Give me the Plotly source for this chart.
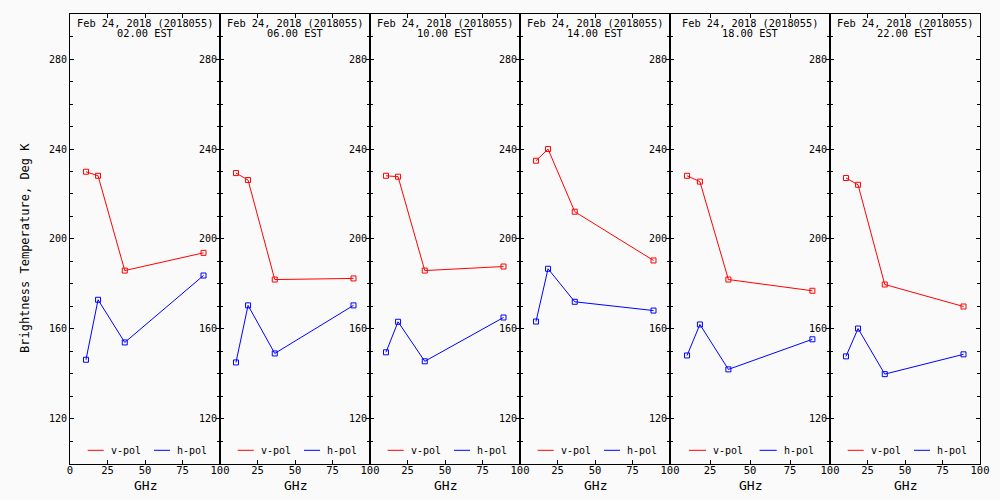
import plotly.graph_objects as go

# ---------------- data ----------------
freqs = [10.65, 18.7, 36.5, 89.0]
date_label = "Feb 24, 2018 (2018055)"
times = ["02.00 EST", "06.00 EST", "10.00 EST", "14.00 EST", "18.00 EST", "22.00 EST"]

vpol_02 = [229.9, 228.1, 185.9, 193.8]
vpol_06 = [229.3, 226.2, 181.9, 182.4]
vpol_10 = [228.1, 227.7, 185.9, 187.7]
vpol_14 = [234.8, 240.0, 212.1, 190.4]
vpol_18 = [228.1, 225.5, 181.9, 176.9]
vpol_22 = [227.1, 224.1, 179.7, 169.9]

hpol_02 = [146.2, 172.9, 153.9, 183.7]
hpol_06 = [145.0, 170.4, 149.0, 170.4]
hpol_10 = [149.5, 163.1, 145.5, 165.0]
hpol_14 = [163.2, 186.7, 172.0, 168.1]
hpol_18 = [148.1, 161.9, 141.9, 155.3]
hpol_22 = [147.7, 160.1, 139.8, 148.6]

vpol = [vpol_02, vpol_06, vpol_10, vpol_14, vpol_18, vpol_22]
hpol = [hpol_02, hpol_06, hpol_10, hpol_14, hpol_18, hpol_22]

x_tickvals = [0, 25, 50, 75, 100]
x_ticktext_first = ["0", "25", "50", "75", "100"]
x_ticktext_rest = ["", "25", "50", "75", "100"]
y_tickvals = [120, 160, 200, 240, 280]
y_ticktext = ["120", "160", "200", "240", "280"]
series_names = ["v-pol", "h-pol"]
series_colors = ["#ff0000", "#0000ff"]

# ---------------- layout geometry ----------------
W, H = 1000, 500
edges_px = [70, 220, 370, 520, 670, 830, 980]
y_top_px, y_bot_px = 14.3, 463.5
ydom = [(H - y_bot_px) / H, (H - y_top_px) / H]
FONT = "DejaVu Sans Mono"
BG = "#fafafa"

fig = go.Figure()
annotations = []
shapes = []

for i in range(6):
    n = "" if i == 0 else str(i + 1)
    xa = "x" + n
    ya = "y" + n
    for vals, name, col in [(vpol[i], series_names[0], series_colors[0]),
                            (hpol[i], series_names[1], series_colors[1])]:
        fig.add_trace(go.Scatter(
            x=freqs, y=vals, mode="lines+markers", name=name,
            line=dict(color=col, width=1),
            marker=dict(symbol="square-open", size=5, color=col, line=dict(width=1, color=col)),
            xaxis=xa, yaxis=ya, showlegend=False, hoverinfo="skip"))

    xdom = [edges_px[i] / W, edges_px[i + 1] / W]
    fig.layout["xaxis" + n] = dict(
        domain=xdom, range=[0, 100], anchor=ya, automargin=False,
        tickmode="array", tickvals=x_tickvals,
        ticktext=x_ticktext_first if i == 0 else x_ticktext_rest,
        ticks="inside", ticklen=4, tickcolor="black", ticklabelstandoff=-3,
        showline=True, linecolor="black", linewidth=1, mirror="ticks",
        showgrid=False, zeroline=False,
        tickfont=dict(family=FONT, size=10.5, color="black"))
    fig.layout["yaxis" + n] = dict(
        domain=ydom, range=[100, 300], anchor=xa, automargin=False,
        tickmode="array", tickvals=y_tickvals, ticktext=y_ticktext,
        ticks="inside", ticklen=4, tickcolor="black",
        minor=dict(dtick=10, tick0=100, ticks="inside", ticklen=3, tickcolor="black"),
        showline=True, linecolor="black", linewidth=1, mirror="ticks",
        showgrid=False, zeroline=False,
        tickfont=dict(family=FONT, size=10, color="black"))

    # panel titles
    annotations.append(dict(text=date_label, xref=xa + " domain", yref="paper",
                            x=0.5, y=(H - 22.5) / H, xanchor="center", yanchor="middle",
                            showarrow=False, font=dict(family=FONT, size=10.3, color="black")))
    annotations.append(dict(text=times[i], xref=xa + " domain", yref="paper",
                            x=0.5, y=(H - 33) / H, xanchor="center", yanchor="middle",
                            showarrow=False, font=dict(family=FONT, size=10.3, color="black")))
    # x axis title
    annotations.append(dict(text="GHz", xref=xa + " domain", yref="paper",
                            x=0.5, y=(H - 485) / H, xanchor="center", yanchor="middle",
                            showarrow=False, font=dict(family=FONT, size=13, color="black")))
    # in-panel legend
    ly = (y_bot_px - 450.3) / (y_bot_px - y_top_px)
    for (x0, x1, tx), name, col in [((0.118, 0.225, 0.258), series_names[0], series_colors[0]),
                                    ((0.560, 0.667, 0.703), series_names[1], series_colors[1])]:
        shapes.append(dict(type="line", xref=xa + " domain", yref=ya + " domain",
                           x0=x0, x1=x1, y0=ly, y1=ly, line=dict(color=col, width=1)))
        annotations.append(dict(text=name, xref=xa + " domain", yref=ya + " domain",
                                x=tx, y=ly, xanchor="left", yanchor="middle", showarrow=False,
                                font=dict(family=FONT, size=10, color="black")))

annotations.append(dict(text="Brightness Temperature, Deg K", xref="paper", yref="paper",
                        x=25 / W, y=(H - 248) / H, xanchor="center", yanchor="middle",
                        textangle=-90, showarrow=False,
                        font=dict(family=FONT, size=12, color="black")))

fig.update_layout(
    width=W, height=H,
    margin=dict(l=0, r=0, t=0, b=0, autoexpand=False),
    paper_bgcolor=BG, plot_bgcolor=BG,
    annotations=annotations, shapes=shapes,
    showlegend=False, hovermode=False,
)

fig.write_html("out.html",
               config={"displayModeBar": False, "staticPlot": True},
               post_script="document.body.style.margin='0';document.body.style.overflow='hidden';")
